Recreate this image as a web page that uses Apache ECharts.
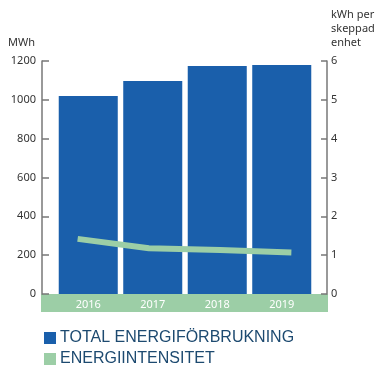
<!DOCTYPE html>
<html>
<head>
<meta charset="utf-8">
<script src="https://cdn.jsdelivr.net/npm/echarts@6/dist/echarts.min.js"></script>
<style>
  html, body { margin: 0; padding: 0; background: #fff; }
  #chart { width: 378px; height: 367px; }
</style>
</head>
<body>
<div id="chart"></div>
<script>
const years = ['2016', '2017', '2018', '2019'];
const totalEnergy = [1020, 1097, 1174, 1180];
const intensity = [1.42, 1.18, 1.13, 1.07];
const leftTicks = [0, 1200, 200];
const rightTicks = [0, 6, 1];

const blue = '#1a5fab';
const green = '#9ccea6';
const axisGrey = '#777';
const font = '"Noto Sans", sans-serif';

const chartBlock = document.getElementById('chart');
const chart = echarts.init(chartBlock);

const option = {
  animation: false,
  grid: [
    // bars
    { left: 56, right: 64, top: 61, bottom: 73 },
    // line + visible axes
    { left: 42, right: 51, top: 61, bottom: 73 },
  ],
  graphic: [
    {
      type: 'rect',
      z: 0,
      shape: { x: 41, y: 294, width: 287, height: 18 },
      style: { fill: green },
    },
  ],
  xAxis: [
    {
      type: 'category',
      gridIndex: 0,
      data: years,
      axisLine: { show: false },
      axisTick: { show: false },
      axisLabel: {
        color: '#fff',
        fontSize: 11,
        fontFamily: font,
        margin: 5,
      },
      z: 5,
    },
    {
      type: 'category',
      gridIndex: 1,
      data: years,
      show: false,
    },
  ],
  yAxis: [
    {
      type: 'value',
      gridIndex: 0,
      min: leftTicks[0],
      max: leftTicks[1],
      interval: leftTicks[2],
      show: false,
    },
    {
      type: 'value',
      gridIndex: 1,
      position: 'left',
      min: leftTicks[0],
      max: leftTicks[1],
      interval: leftTicks[2],
      name: 'MWh',
      nameLocation: 'end',
      nameGap: 18,
      nameTextStyle: {
        align: 'right',
        verticalAlign: 'middle',
        padding: [0, 7, 0, 0],
        color: '#333',
        fontSize: 11,
        fontFamily: font,
      },
      axisLine: { show: true, lineStyle: { color: axisGrey, width: 1.5 } },
      axisTick: { show: true, inside: true, length: 7, lineStyle: { color: axisGrey, width: 1.5 } },
      axisLabel: {
        color: '#333',
        fontSize: 11,
        fontFamily: font,
        margin: 6,
        formatter: (v) => String(v),
      },
      splitLine: { show: false },
    },
    {
      type: 'value',
      gridIndex: 1,
      position: 'right',
      min: rightTicks[0],
      max: rightTicks[1],
      interval: rightTicks[2],
      name: 'kWh per\nskeppad\nenhet',
      nameLocation: 'end',
      nameGap: 32,
      nameTextStyle: {
        align: 'left',
        verticalAlign: 'middle',
        lineHeight: 14,
        padding: [0, 0, 0, 4],
        color: '#333',
        fontSize: 11,
        fontFamily: font,
      },
      axisLine: { show: true, lineStyle: { color: axisGrey, width: 1.5 } },
      axisTick: { show: true, inside: true, length: 6, lineStyle: { color: axisGrey, width: 1.5 } },
      axisLabel: { color: '#333', fontSize: 11, fontFamily: font, margin: 4 },
      splitLine: { show: false },
    },
  ],
  legend: {
    orient: 'vertical',
    left: 44,
    top: 329,
    height: 60,
    padding: 0,
    itemWidth: 12,
    itemHeight: 12,
    itemGap: 3,
    textStyle: {
      color: '#1d4a70',
      fontSize: 16,
      lineHeight: 18,
      fontFamily: '"Liberation Sans", Arial, sans-serif',
      padding: [0, 0, 0, -1],
    },
    data: [
      { name: 'TOTAL ENERGIFÖRBRUKNING', icon: 'rect' },
      { name: 'ENERGIINTENSITET', icon: 'rect' },
    ],
  },
  series: [
    {
      name: 'TOTAL ENERGIFÖRBRUKNING',
      type: 'bar',
      xAxisIndex: 0,
      yAxisIndex: 0,
      data: totalEnergy,
      barCategoryGap: '8.5%',
      itemStyle: { color: blue },
      z: 2,
    },
    {
      name: 'ENERGIINTENSITET',
      type: 'line',
      xAxisIndex: 1,
      yAxisIndex: 2,
      data: intensity,
      symbol: 'none',
      lineStyle: { color: green, width: 6, cap: 'butt' },
      itemStyle: { color: green },
      z: 3,
    },
  ],
};

chart.setOption(option);

window.addEventListener('resize', () => chart.resize());
</script>
</body>
</html>
